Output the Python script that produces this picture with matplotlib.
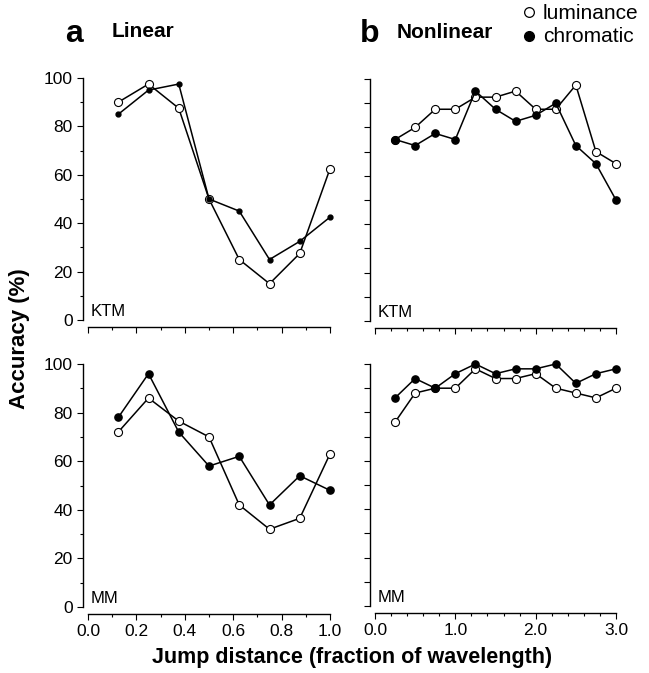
import matplotlib
matplotlib.use("Agg")
import matplotlib.pyplot as plt
from matplotlib.lines import Line2D
from matplotlib.ticker import MultipleLocator

plt.rcParams['font.family'] = ['Liberation Sans', 'DejaVu Sans']

# jump distances
x_lin = [0.125, 0.25, 0.375, 0.5, 0.625, 0.75, 0.875, 1.0]
x_nonlin = [0.25, 0.5, 0.75, 1.0, 1.25, 1.5, 1.75, 2.0, 2.25, 2.5, 2.75, 3.0]

# accuracy (%) - monkey KTM
ktm_lin_lum = [90, 97.5, 87.5, 50, 25, 15, 27.5, 62.5]
ktm_lin_chr = [85, 95, 97.5, 50, 45, 25, 32.5, 42.5]
ktm_nonlin_lum = [75, 80, 87.5, 87.5, 92.5, 92.5, 95, 87.5, 87.5, 97.5, 70, 65]
ktm_nonlin_chr = [75, 72.5, 77.5, 75, 95, 87.5, 82.5, 85, 90, 72.5, 65, 50]

# accuracy (%) - monkey MM
mm_lin_lum = [72, 86, 76.5, 70, 42, 32, 36.5, 63]
mm_lin_chr = [78, 96, 72, 58, 62, 42, 54, 48]
mm_nonlin_lum = [76, 88, 90, 90, 98, 94, 94, 96, 90, 88, 86, 90]
mm_nonlin_chr = [86, 94, 90, 96, 100, 96, 98, 98, 100, 92, 96, 98]

W, H = 649, 673
fig = plt.figure(figsize=(W / 100, H / 100), dpi=100)


def px_axes(left, right, top, bottom):
    return fig.add_axes([left / W, 1 - bottom / H, (right - left) / W, (bottom - top) / H])


def style_axes(ax, xmax, linear, show_ylabels, show_xlabels):
    ax.set_xlim(0, xmax)
    ax.set_ylim(0, 100)
    for s in ['top', 'right']:
        ax.spines[s].set_visible(False)
    ax.spines['left'].set_position(('outward', 3.6))
    ax.spines['bottom'].set_position(('outward', 5))
    ax.spines['left'].set_bounds(0, 100)
    ax.spines['bottom'].set_bounds(0, xmax)
    for s in ['left', 'bottom']:
        ax.spines[s].set_linewidth(1.0)
    ax.yaxis.set_major_locator(MultipleLocator(20))
    ax.yaxis.set_minor_locator(MultipleLocator(10))
    if linear:
        ax.xaxis.set_major_locator(MultipleLocator(0.2))
        ax.xaxis.set_minor_locator(MultipleLocator(0.1))
    else:
        ax.xaxis.set_major_locator(MultipleLocator(1.0))
        ax.xaxis.set_minor_locator(MultipleLocator(0.2))
    ax.xaxis.set_major_formatter(lambda v, p: f"{v:.1f}")
    ax.tick_params(which='major', direction='out', length=4.5, width=0.8,
                   labelsize=12.5, pad=3)
    ax.tick_params(which='minor', direction='out', length=2.2, width=0.8)
    if not linear:
        ax.tick_params(axis='y', which='minor', length=4.5)
    ax.tick_params(axis='y', labelleft=show_ylabels)
    ax.tick_params(axis='x', labelbottom=show_xlabels)


def draw(ax, x, lum, chrom, small_filled=False):
    ax.plot(x, lum, color='black', lw=1.1, marker='o', ms=5.8,
            mfc='white', mec='black', mew=0.8, clip_on=False, zorder=3)
    ax.plot(x, chrom, color='black', lw=1.1, marker='o',
            ms=3.5 if small_filled else 5.2,
            mfc='black', mec='black', clip_on=False, zorder=4)


ax_tl = px_axes(88, 330, 78, 320)
ax_tr = px_axes(375, 616, 79, 321)
ax_bl = px_axes(88, 330, 364, 607)
ax_br = px_axes(375, 616, 364, 606)

draw(ax_tl, x_lin, ktm_lin_lum, ktm_lin_chr, small_filled=True)
draw(ax_tr, x_nonlin, ktm_nonlin_lum, ktm_nonlin_chr)
draw(ax_bl, x_lin, mm_lin_lum, mm_lin_chr)
draw(ax_br, x_nonlin, mm_nonlin_lum, mm_nonlin_chr)

style_axes(ax_tl, 1.0, True, True, False)
style_axes(ax_tr, 3.0, False, False, False)
style_axes(ax_bl, 1.0, True, True, True)
style_axes(ax_br, 3.0, False, False, True)

for ax, name in [(ax_tl, 'KTM'), (ax_tr, 'KTM'), (ax_bl, 'MM'), (ax_br, 'MM')]:
    ax.text(0.012, 0.015, name, transform=ax.transAxes, fontsize=12,
            ha='left', va='baseline')

# panel letters and titles
fig.text(65 / W, 1 - 42 / H, 'a', fontsize=23, fontweight='bold', va='baseline')
fig.text(112 / W, 1 - 37 / H, 'Linear', fontsize=15, fontweight='bold', va='baseline')
fig.text(360 / W, 1 - 42 / H, 'b', fontsize=23, fontweight='bold', va='baseline')
fig.text(397 / W, 1 - 38 / H, 'Nonlinear', fontsize=15, fontweight='bold', va='baseline')

# legend
fig.add_artist(Line2D([529 / W], [1 - 12 / H], transform=fig.transFigure, marker='o',
                      ms=7, mfc='white', mec='black', mew=0.9, ls='none'))
fig.add_artist(Line2D([529 / W], [1 - 36 / H], transform=fig.transFigure, marker='o',
                      ms=7, mfc='black', mec='black', ls='none'))
fig.text(543 / W, 1 - 19 / H, 'luminance', fontsize=15, va='baseline')
fig.text(543 / W, 1 - 42 / H, 'chromatic', fontsize=15, va='baseline')

# axis labels
fig.text(20 / W, 1 - 339 / H, 'Accuracy (%)', fontsize=16, fontweight='bold',
         rotation=90, ha='center', va='center')
fig.text(352 / W, 1 - 657 / H, 'Jump distance (fraction of wavelength)',
         fontsize=15.5, fontweight='bold', ha='center', va='center')

fig.savefig('out.png', dpi=100)
